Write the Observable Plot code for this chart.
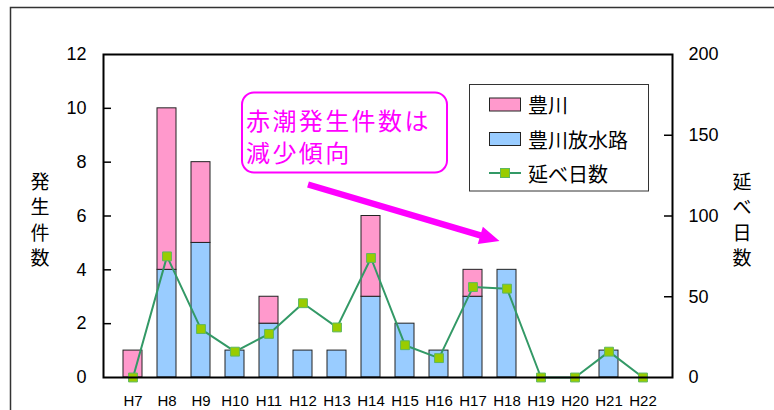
<!DOCTYPE html>
<html>
<head>
<meta charset="utf-8">
<script src="https://cdn.jsdelivr.net/npm/d3@7"></script>
<script src="https://cdn.jsdelivr.net/npm/@observablehq/plot@0.6"></script>
<style>
  body { margin: 0; background: #fff; overflow: hidden; }
  #chart svg { display: block; }
</style>
</head>
<body>
<div id="chart"></div>
<script>
// Red tide occurrences per fiscal year (Heisei era) and total days
const years = ["H7","H8","H9","H10","H11","H12","H13","H14","H15","H16","H17","H18","H19","H20","H21","H22"];
const floodwayCounts = [0, 4, 5, 1, 2, 1, 1, 3, 2, 1, 3, 4, 0, 0, 1, 0]; // 豊川放水路
const riverCounts    = [1, 6, 3, 0, 1, 0, 0, 3, 0, 0, 1, 0, 0, 0, 0, 0]; // 豊川
const totalDays      = [0, 75, 30, 16, 27, 46, 31, 74, 20, 12, 56, 55, 0, 0, 16, 0]; // 延べ日数

const leftTicks = [0, 2, 4, 6, 8, 10, 12];
const rightTicks = [0, 50, 100, 150, 200];
const countMax = 12;
const daysMax = 200;

const riverName = "豊川";
const floodwayName = "豊川放水路";
const daysName = "延べ日数";
const leftTitle = "発生件数";
const rightTitle = "延べ日数";
const noteLines = ["赤潮発生件数は", "減少傾向"];

const pink = "#FF99CC";
const blue = "#99CCFF";
const lineGreen = "#339966";
const markerFill = "#99CC00";
const markerStroke = "#5DB85F";
const magenta = "#FF00FF";
const jpFont = "'Noto Sans CJK JP', sans-serif";

// days are drawn on the count scale (right axis maps 0..12 to 0..200)
const toCount = d => d * countMax / daysMax;

const barRows = [];
years.forEach((y, i) => {
  barRows.push({year: y, series: floodwayName, value: floodwayCounts[i]});
  barRows.push({year: y, series: riverName, value: riverCounts[i]});
});
const dayRows = years.map((y, i) => ({year: y, days: totalDays[i]}));

const W = 774, H = 410;
const M = {top: 54, right: 102, bottom: 33, left: 103};
const innerW = W - M.left - M.right;

function overlay(draw) {
  return () => {
    const g = d3.create("svg:g").attr("text-anchor", "start");
    draw(g);
    return g.node();
  };
}

// outer panel border
const panelBorder = overlay(g => {
  g.append("path")
    .attr("d", `M10.5,${H} V7.5 H${W}`)
    .attr("fill", "none").attr("stroke", "#333").attr("stroke-width", 1.5);
});

// vertical axis titles, one character per line
const axisTitles = overlay(g => {
  const put = (text, cx) => {
    [...text].forEach((ch, k) => {
      g.append("text").text(ch)
        .attr("x", cx).attr("y", 180 + k * 25.6)
        .attr("text-anchor", "middle").attr("dominant-baseline", "central")
        .attr("font-family", jpFont).attr("font-size", 19).attr("fill", "#000");
    });
  };
  put(leftTitle, 40);
  put(rightTitle, 742);
});

// callout box and trend arrow
const callout = overlay(g => {
  g.append("rect")
    .attr("x", 242).attr("y", 92.5).attr("width", 205).attr("height", 80)
    .attr("rx", 12).attr("fill", "#fff")
    .attr("stroke", magenta).attr("stroke-width", 2);
  noteLines.forEach((t, k) => {
    g.append("text").text(t)
      .attr("x", 246).attr("y", 119 + k * 32)
      .attr("text-anchor", "start").attr("dominant-baseline", "central")
      .attr("letter-spacing", 2.4)
      .attr("font-family", jpFont).attr("font-size", 24).attr("fill", magenta);
  });
  const S = [308, 184.5], T = [499.5, 241];
  const len = Math.hypot(T[0] - S[0], T[1] - S[1]);
  const u = [(T[0] - S[0]) / len, (T[1] - S[1]) / len];
  const n = [-u[1], u[0]];
  const headLen = 20, headHalf = 9, shaftHalf = 3.2;
  const B = [T[0] - u[0] * headLen, T[1] - u[1] * headLen];
  const p = (P, s) => [P[0] + n[0] * s, P[1] + n[1] * s];
  const pts = [p(S, shaftHalf), p(B, shaftHalf), p(B, headHalf), T, p(B, -headHalf), p(B, -shaftHalf), p(S, -shaftHalf)];
  g.append("path").attr("d", "M" + pts.map(q => q.join(",")).join("L") + "Z").attr("fill", magenta);
});

// legend
const legend = overlay(g => {
  g.append("rect")
    .attr("x", 469.5).attr("y", 84.5).attr("width", 179).attr("height", 106.5)
    .attr("fill", "#fff").attr("stroke", "#333").attr("stroke-width", 1);
  const rows = [104.5, 139, 173];
  [[riverName, pink], [floodwayName, blue]].forEach(([name, color], k) => {
    g.append("rect")
      .attr("x", 489.5).attr("y", rows[k] - 6.5).attr("width", 31).attr("height", 13)
      .attr("fill", color).attr("stroke", "#222").attr("stroke-width", 1);
  });
  g.append("line")
    .attr("x1", 489).attr("x2", 521).attr("y1", rows[2]).attr("y2", rows[2])
    .attr("stroke", lineGreen).attr("stroke-width", 2);
  g.append("rect")
    .attr("x", 500.5).attr("y", rows[2] - 4.5).attr("width", 9).attr("height", 9)
    .attr("fill", markerFill).attr("stroke", markerStroke).attr("stroke-width", 1);
  [riverName, floodwayName, daysName].forEach((t, k) => {
    g.append("text").text(t)
      .attr("x", 528).attr("y", rows[k])
      .attr("text-anchor", "start").attr("dominant-baseline", "central")
      .attr("font-family", jpFont).attr("font-size", 20).attr("fill", "#000");
  });
});

const chart = Plot.plot({
  width: W,
  height: H,
  marginTop: M.top,
  marginRight: M.right,
  marginBottom: M.bottom,
  marginLeft: M.left,
  style: {fontFamily: "'Liberation Sans', Arial, sans-serif", background: "#fff", color: "#000"},
  x: {type: "band", domain: years, padding: 0.43},
  y: {domain: [0, countMax]},
  color: {domain: [riverName, floodwayName], range: [pink, blue]},
  marks: [
    panelBorder,
    Plot.barY(barRows, {
      x: "year", y: "value", fill: "series",
      stroke: "#222", strokeWidth: 1,
      filter: d => d.value > 0
    }),
    Plot.line(dayRows, {x: "year", y: d => toCount(d.days), stroke: lineGreen, strokeWidth: 2}),
    Plot.dot(dayRows, {
      x: "year", y: d => toCount(d.days), symbol: "square", r: 5,
      fill: markerFill, stroke: markerStroke, strokeWidth: 1
    }),
    Plot.frame({stroke: "#000", strokeWidth: 2}),
    // inward tick marks on both vertical axes
    Plot.ruleY(leftTicks.slice(1, -1), {stroke: "#000", strokeWidth: 1.5, insetRight: innerW - 8}),
    Plot.ruleY(rightTicks.slice(1, -1).map(toCount), {stroke: "#000", strokeWidth: 1.5, insetLeft: innerW - 8}),
    Plot.axisY(leftTicks, {anchor: "left", tickSize: 0, tickPadding: 17, fontSize: 18, label: null}),
    Plot.axisY(rightTicks.map(toCount), {
      anchor: "right", tickSize: 0, tickPadding: 16, fontSize: 18, label: null,
      tickFormat: v => String(Math.round(v * daysMax / countMax))
    }),
    Plot.axisX({tickSize: 0, tickPadding: 18, fontSize: 15, label: null}),
    axisTitles,
    callout,
    legend
  ]
});

document.getElementById("chart").append(chart);
</script>
</body>
</html>
